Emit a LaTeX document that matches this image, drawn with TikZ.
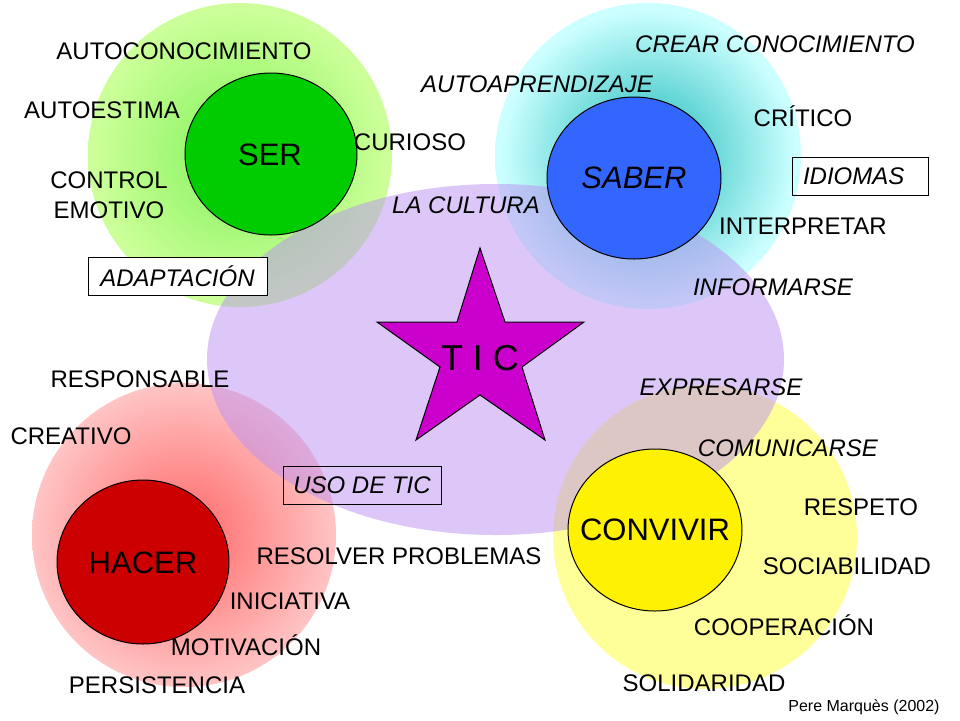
\documentclass[tikz,border=0pt]{standalone}
\usepackage{fontspec}
\setmainfont{Liberation Sans}
\usepackage{tikz}
\definecolor{tipurple}{RGB}{186,145,242}
\definecolor{seryellow}{RGB}{255,255,153}
\definecolor{sergreen}{RGB}{0,204,0}
\definecolor{saberblue}{RGB}{51,102,255}
\definecolor{hacerred}{RGB}{204,0,0}
\definecolor{starmag}{RGB}{204,0,204}
\pgfdeclareradialshading{serglow}{\pgfpointorigin}{rgb(0bp)=(0.5,0.95,0.35); rgb(24bp)=(0.8,1,0.6); rgb(50bp)=(0.8,1,0.6)}
\pgfdeclareradialshading{saberglow}{\pgfpointorigin}{rgb(0bp)=(0.1,0.72,0.72); rgb(24bp)=(0.8,1,1); rgb(50bp)=(0.8,1,1)}
\pgfdeclareradialshading{hacerglow}{\pgfpointorigin}{rgb(0bp)=(1,0.4,0.4); rgb(27bp)=(1,0.8,0.8); rgb(50bp)=(1,0.8,0.8)}
\tikzset{
  every node/.style={font=\fontsize{12}{15}\selectfont, inner sep=0pt},
  core/.style={draw=black, line width=0.5pt},
  big/.style={font=\fontsize{15.5}{18}\selectfont},
  tag/.style={draw=black, line width=0.5pt, minimum height=19pt, font=\fontsize{12}{15}\selectfont\itshape}
}
\begin{document}
\begin{tikzpicture}[x=0.5pt,y=-0.5pt]
\useasboundingbox (0,0) rectangle (960,720);
\fill[white] (0,0) rectangle (960,720);
% halos
\shade[shading=serglow] (240,155) circle [radius=76pt];
\shade[shading=saberglow] (648,156) circle [radius=76.5pt];
\shade[shading=hacerglow] (184,535) circle [radius=76pt];
\fill[seryellow] (705,537) circle [radius=76pt];
\fill[tipurple, fill opacity=0.5] (495.5,359.5) ellipse [x radius=144.25pt, y radius=87.75pt];
% cores
\draw[core, fill=sergreen] (271,154) ellipse [x radius=43pt, y radius=40.5pt];
\draw[core, fill=saberblue] (634,178) ellipse [x radius=43.5pt, y radius=40.5pt];
\draw[core, fill=hacerred] (143,562) ellipse [x radius=43pt, y radius=41pt];
\draw[core, fill=yellow] (655,530) ellipse [x radius=43.5pt, y radius=40.5pt];
\draw[core, fill=starmag] (480,248) -- (505,322) -- (584,322) -- (522,367) -- (545,440)
  -- (480,395) -- (416,440) -- (440,367) -- (377,322) -- (457,322) -- cycle;
\node (ser) at (270,155) [big] {SER};
\node (saber) at (634,178) [big] {\itshape SABER};
\node (hacer) at (143,563) [big] {HACER};
\node (convivir) at (655,530) [big] {CONVIVIR};
\node (tic) at (480,358) [font=\fontsize{18}{21}\selectfont] {T I C};
% ser
\node (autocon) at (184,51) {AUTOCONOCIMIENTO};
\node (autoestima) at (102,110) {AUTOESTIMA};
\node (curioso) at (410,142) {CURIOSO};
\node (control) at (109,195) [align=center] {CONTROL\\EMOTIVO};
\node (adaptacion) at (177.5,276) [tag, fill=white, minimum width=89.5pt] {ADAPTACIÓN};
% saber
\node (cultura) at (466,205) {\itshape LA CULTURA};
\node (autoapr) at (537,84) {\itshape AUTOAPRENDIZAJE};
\node (crear) at (775,44) {\itshape CREAR CONOCIMIENTO};
\node (critico) at (803,116) {CRÍTICO};
\node (idiomas) at (860,176.5) [tag, minimum width=68pt, text width=57pt, inner xsep=5.5pt, align=left] {IDIOMAS};
\node (interpretar) at (803,226) {INTERPRETAR};
\node (informarse) at (773,287) {\itshape INFORMARSE};
% hacer
\node (responsable) at (140,379) {RESPONSABLE};
\node (creativo) at (71,436) {CREATIVO};
\node (usotic) at (362,485) [tag, minimum width=79pt] {USO DE TIC};
\node (resolver) at (399,556) {RESOLVER PROBLEMAS};
\node (iniciativa) at (290,601) {INICIATIVA};
\node (motivacion) at (246,645) {MOTIVACIÓN};
\node (persistencia) at (157,685) {PERSISTENCIA};
% convivir
\node (expresarse) at (721,387) {\itshape EXPRESARSE};
\node (comunicarse) at (788,448) {\itshape COMUNICARSE};
\node (respeto) at (861,507) {RESPETO};
\node (sociab) at (847,566) {SOCIABILIDAD};
\node (cooperacion) at (784,625) {COOPERACIÓN};
\node (solidaridad) at (704,683) {SOLIDARIDAD};
\node (autor) at (864,707) [font=\fontsize{8}{10}\selectfont] {Pere Marquès (2002)};
\end{tikzpicture}
\end{document}
